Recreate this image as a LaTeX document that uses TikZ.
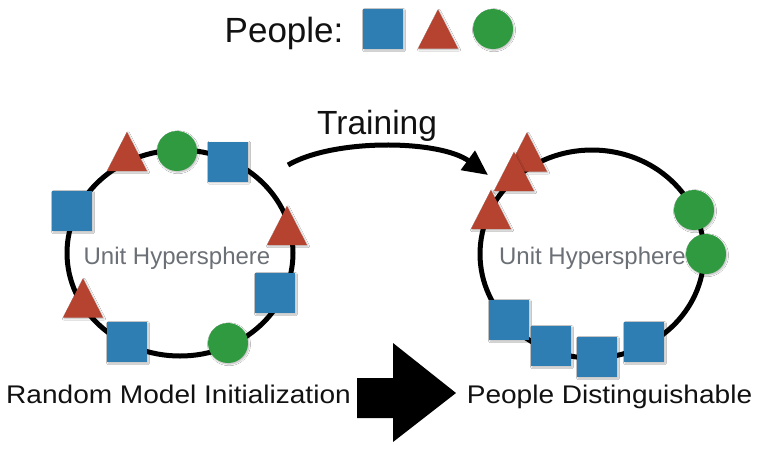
\documentclass[tikz,border=0pt]{standalone}
\usepackage{fontspec}
\setmainfont{Liberation Sans}
\newfontfamily\widefont[FakeStretch=1.1]{Liberation Sans}
\usetikzlibrary{arrows.meta,shapes.geometric,shadows.blur}
\definecolor{pblue}{HTML}{2E7DB3}
\definecolor{pred}{HTML}{B5432F}
\definecolor{pgreen}{HTML}{2F9A3F}
\definecolor{hgray}{HTML}{6B7076}
\definecolor{ink}{HTML}{111111}
\begin{document}
\begin{tikzpicture}[x=1pt,y=-1pt,
  shad/.style={blur shadow={shadow xshift=1pt,shadow yshift=-1.2pt,shadow blur radius=1.5pt,shadow blur steps=5,shadow opacity=28}},
  sq/.style={rectangle,fill=pblue,minimum size=40pt,inner sep=0pt,outer sep=0pt,shad},
  ci/.style={circle,fill=pgreen,minimum size=40pt,inner sep=0pt,outer sep=0pt,shad},
  sphere/.style={ellipse,draw=black,line width=5pt,inner sep=0pt},
  hlabel/.style={text=hgray,font=\fontsize{24}{28}\selectfont,anchor=base,inner sep=0pt},
  caption/.style={text=ink,font=\widefont\fontsize{25.5}{30}\selectfont,anchor=base,inner sep=0pt},
  tri/.pic={\path[fill=pred,shad] (0,-19.5) -- (20,19.5) -- (-20,19.5) -- cycle;}
]
\useasboundingbox[fill=white] (0,0) rectangle (759,450);

% legend
\node[text=ink,font=\fontsize{35}{42}\selectfont,anchor=base west,inner sep=0pt] (legend) at (224.5,42) {People:};
\node[sq] (lsq) at (383,29) {};
\pic (ltri) at (438,29) {tri};
\node[ci] (lci) at (493,29) {};

% spheres
\node[sphere,minimum width=226pt,minimum height=206pt] (s1) at (180,253) {};
\node[sphere,minimum width=224pt,minimum height=208pt] (s2) at (592,254) {};
\node[hlabel] (h1) at (177,264) {Unit Hypersphere};
\node[hlabel] (h2) at (592.5,264) {Unit Hypersphere};

% left shapes
\pic (a1) at (127,151.5) {tri};
\node[ci] (a2) at (177,151) {};
\node[sq] (a3) at (228,161.5) {};
\node[sq] (a4) at (72,211) {};
\pic (a5) at (287,225.5) {tri};
\node[sq] (a6) at (275,293) {};
\pic (a7) at (83,298) {tri};
\node[sq] (a8) at (127,342) {};
\node[ci] (a9) at (228,343) {};

% right shapes
\pic (b1) at (527,152) {tri};
\pic (b2) at (514,171.5) {tri};
\pic (b3) at (491,209.5) {tri};
\node[ci] (b4) at (694,210) {};
\node[ci] (b5) at (706,254) {};
\node[sq] (b6) at (509,320) {};
\node[sq] (b7) at (551,346) {};
\node[sq] (b8) at (597,357) {};
\node[sq] (b9) at (644,342) {};

% training arrow
\coordinate (tstart) at (288,165);
\coordinate (tend) at (488,175);
\draw[line width=5pt,-{Triangle[length=25pt,width=23pt]}] (tstart) .. controls (335,138) and (440,140) .. (tend);
\node[text=ink,font=\fontsize{33.5}{40}\selectfont,anchor=base west,inner sep=0pt] (train) at (317,134) {Training};

% big arrow
\fill[black] (357,378) -- (393,378) -- (393,343) -- (456,393) -- (393,442) -- (393,418) -- (357,418) -- cycle;

% captions
\node[caption] (c1) at (178.5,403) {Random Model Initialization};
\node[caption] (c2) at (609.5,403) {People Distinguishable};
\end{tikzpicture}
\end{document}
